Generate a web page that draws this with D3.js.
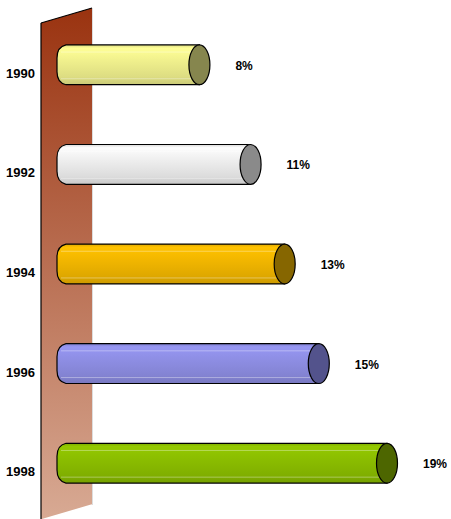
<!DOCTYPE html>
<html>
<head>
<meta charset="utf-8">
<script src="https://cdn.jsdelivr.net/npm/d3@7"></script>
<style>
  body { margin: 0; background: #fff; }
  svg { display: block; }
  .label { font-family: Arial, "Liberation Sans", sans-serif; font-weight: bold; font-size: 12px; fill: #000; }
  .year { font-size: 13px; }
</style>
</head>
<body>
<svg id="chart" width="451" height="519"></svg>
<script>
const years = ['1990', '1992', '1994', '1996', '1998'];
const values = [8, 11, 13, 15, 19];
const labels = ['8%', '11%', '13%', '15%', '19%'];
const bodyColors = ['#f2f28e', '#f0f0f0', '#f4b800', '#8f8fe6', '#8cbf00'];
const capColors = ['#86864e', '#8a8a8a', '#866600', '#53538c', '#4d6600'];

const svg = d3.select('#chart');
const defs = svg.append('defs');

const x = d3.scaleLinear()
    .domain([0, 19])
    .range([63, 387]);

const y = d3.scaleBand()
    .domain(years)
    .range([15, 513])
    .paddingInner(0.6)
    .paddingOuter(0.3);

// WALL

const wallGrad = defs.append('linearGradient')
    .attr('id', 'wallGrad')
    .attr('x1', 0).attr('y1', 0).attr('x2', 0).attr('y2', 1);
wallGrad.append('stop').attr('offset', 0).attr('stop-color', '#9a3310');
wallGrad.append('stop').attr('offset', 1).attr('stop-color', '#d8aa94');

const wallLeft = 41, wallRight = 92;
svg.append('path')
    .attr('d', `M${wallLeft},23 L${wallRight},8 L${wallRight},505 L${wallLeft},520 Z`)
    .attr('fill', 'url(#wallGrad)');
svg.append('line')
    .attr('x1', wallLeft).attr('x2', wallLeft).attr('y1', 23).attr('y2', 520)
    .attr('stroke', '#000').attr('stroke-width', 1.2);
svg.append('line')
    .attr('x1', wallLeft).attr('x2', wallRight).attr('y1', 23).attr('y2', 8)
    .attr('stroke', '#000').attr('stroke-width', 1.2);
svg.append('line')
    .attr('x1', wallRight + 0.5).attr('x2', wallRight + 0.5).attr('y1', 8).attr('y2', 505)
    .attr('stroke', '#ddd').attr('stroke-width', 1);
svg.append('line')
    .attr('x1', wallLeft).attr('x2', wallRight).attr('y1', 520).attr('y2', 505)
    .attr('stroke', '#fff').attr('stroke-width', 1.5);

// BARS

years.forEach((yr, i) => {
    const c = d3.color(bodyColors[i]);
    const g = defs.append('linearGradient')
        .attr('id', 'bar' + i)
        .attr('x1', 0).attr('y1', 0).attr('x2', 0).attr('y2', 1);
    g.append('stop').attr('offset', 0).attr('stop-color', c.darker(0.3));
    g.append('stop').attr('offset', 0.08).attr('stop-color', c.brighter(0.15));
    g.append('stop').attr('offset', 0.35).attr('stop-color', c);
    g.append('stop').attr('offset', 0.8).attr('stop-color', c.darker(0.25));
    g.append('stop').attr('offset', 1).attr('stop-color', c.darker(0.5));
});

const bars = svg.selectAll('.bar')
    .data(years)
    .join('g')
    .attr('class', 'bar');

const h = y.bandwidth();
const x0 = 57;
const rx = 10.5;

bars.append('path')
    .attr('d', (d, i) => {
        const top = y(d), bot = y(d) + h, xe = x(values[i]);
        const r = 9;
        return `M${xe},${top} L${x0 + r},${top} Q${x0},${top + 2} ${x0},${top + r + 4}` +
            ` L${x0},${bot - r - 4} Q${x0},${bot - 2} ${x0 + r},${bot} L${xe},${bot} Z`;
    })
    .attr('fill', (d, i) => `url(#bar${i})`)
    .attr('stroke', '#000')
    .attr('stroke-width', 1.2);

// faint highlight lines on the body
[0.18, 0.85].forEach(f => {
    bars.append('line')
        .attr('x1', x0 + 4)
        .attr('x2', (d, i) => x(values[i]) - 2)
        .attr('y1', d => y(d) + h * f)
        .attr('y2', d => y(d) + h * f)
        .attr('stroke', '#fff')
        .attr('stroke-opacity', 0.35)
        .attr('stroke-width', 1);
});

bars.append('ellipse')
    .attr('cx', (d, i) => x(values[i]))
    .attr('cy', d => y(d) + h / 2)
    .attr('rx', rx)
    .attr('ry', h / 2)
    .attr('fill', (d, i) => capColors[i])
    .attr('stroke', '#000')
    .attr('stroke-width', 1.2);

// TEXT

bars.append('text')
    .attr('class', 'label')
    .attr('x', (d, i) => x(values[i]) + 36)
    .attr('y', d => y(d) + h / 2 + 5)
    .text((d, i) => labels[i]);

bars.append('text')
    .attr('class', 'label year')
    .attr('x', 6)
    .attr('y', d => y(d) + h / 2 + 13)
    .text(d => d);
</script>
</body>
</html>
